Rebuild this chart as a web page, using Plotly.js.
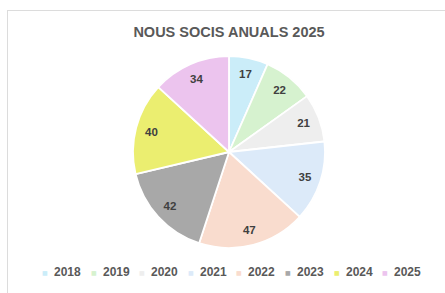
<!DOCTYPE html>
<html>
<head>
<meta charset="utf-8">
<script src="https://cdn.plot.ly/plotly-3.0.1.min.js"></script>
<style>
  html, body { margin: 0; padding: 0; background: #ffffff; }
  #wrap { position: relative; width: 445px; height: 293px; overflow: hidden; }
  #chart { position: absolute; left: 0; top: 0; width: 445px; height: 293px; }
  #frame { position: absolute; left: 7px; top: 10px; width: 460px; height: 300px;
           border-left: 1px solid #dcdcdc; border-top: 1px solid #dcdcdc; pointer-events: none; }
</style>
</head>
<body>
<div id="wrap">
  <div id="chart"></div>
  <div id="frame"></div>
</div>
<script>
const chartTitle = "NOUS SOCIS ANUALS 2025";
const years = ["2018", "2019", "2020", "2021", "2022", "2023", "2024", "2025"];
const members = [17, 22, 21, 35, 47, 42, 40, 34];
const sliceColors = ["#cbedf9", "#d6f2cf", "#eeeeee", "#dceaf9", "#f9dcce", "#a8a8a8", "#ebee70", "#ecc4ee"];

const W = 445, H = 293;
const cx = 229, cy = 152, R = 96;
const dom = { x: [(cx - R) / W, (cx + R) / W], y: [(H - cy - R) / H, (H - cy + R) / H] };

// full pie: the coloured slices
const slices = {
  type: "pie",
  labels: years,
  values: members,
  sort: false,
  direction: "clockwise",
  rotation: 0,
  marker: { colors: sliceColors, line: { color: "#ffffff", width: 1.8 } },
  textinfo: "none",
  hoverinfo: "label+value",
  showlegend: false,
  domain: dom
};

// transparent ring on top carrying the value labels (puts them out near the rim)
const valueLabels = {
  type: "pie",
  labels: years,
  values: members,
  sort: false,
  direction: "clockwise",
  rotation: 0,
  hole: 0.67,
  marker: { colors: years.map(() => "rgba(0,0,0,0)"), line: { width: 0 } },
  textinfo: "value",
  textposition: "inside",
  insidetextorientation: "horizontal",
  textfont: { family: "Liberation Sans, Arial, sans-serif", size: 11.5, color: "#404040", weight: "bold" },
  hoverinfo: "skip",
  showlegend: false,
  domain: dom
};

// legend built as annotations from the category arrays
const annotations = [];
const legX0 = 52, legStep = 48.6, legY = 272;
years.forEach((y, i) => {
  const tx = legX0 + i * legStep;
  annotations.push({
    xref: "paper", yref: "paper", x: (tx - 7) / W, y: (H - legY) / H,
    xanchor: "center", yanchor: "middle", showarrow: false,
    text: "■", font: { family: "DejaVu Sans, sans-serif", size: 6, color: sliceColors[i] }
  });
  annotations.push({
    xref: "paper", yref: "paper", x: tx / W, y: (H - legY) / H,
    xanchor: "left", yanchor: "middle", showarrow: false,
    text: "<b>" + y + "</b>",
    font: { family: "Liberation Sans, Arial, sans-serif", size: 12, color: "#595959" }
  });
});

const layout = {
  width: W, height: H,
  margin: { l: 0, r: 0, t: 0, b: 0 },
  paper_bgcolor: "#ffffff",
  plot_bgcolor: "#ffffff",
  title: {
    text: "<b>" + chartTitle + "</b>",
    x: cx / W, xanchor: "center",
    y: 1 - 31.5 / H, yanchor: "middle", yref: "container",
    font: { family: "Liberation Sans, Arial, sans-serif", size: 14.5, color: "#595959" }
  },
  showlegend: false,
  annotations: annotations
};

Plotly.newPlot("chart", [slices, valueLabels], layout, { displayModeBar: false, staticPlot: true });
</script>
</body>
</html>
